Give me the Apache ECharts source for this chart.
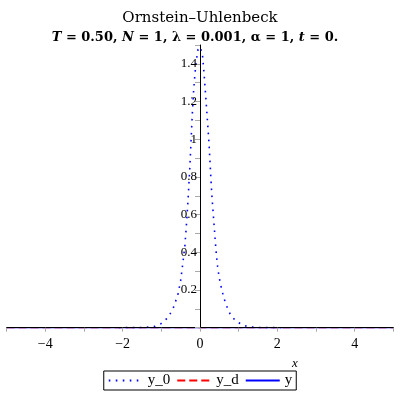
<!DOCTYPE html>
<html><head><meta charset="utf-8">
<script src="https://cdn.jsdelivr.net/npm/echarts@6/dist/echarts.min.js"></script>
<style>html,body{margin:0;padding:0;background:#fff}#c{width:400px;height:400px}</style>
</head><body><div id="c"></div>
<script>
// Series values
var y0X = [-2.1,-1.8,-1.5,-1.33,-1.17,-1.01,-0.86,-0.77,-0.68,-0.57,-0.5,-0.445,-0.39,-0.35,-0.316,-0.29,-0.265,-0.231,-0.205,-0.17,-0.13,-0.093,-0.05,0,0.06,0.105,0.14,0.175,0.205,0.235,0.26,0.29,0.315,0.344,0.37,0.396,0.42,0.455,0.49,0.53,0.566,0.61,0.66,0.72,0.79,0.92,1.07,1.24,1.5,1.8,2.1];
var y0Y = [0,0.0005,0.001,0.003,0.007,0.021,0.048,0.074,0.11,0.177,0.251,0.34,0.437,0.55,0.655,0.75,0.84,0.99,1.107,1.243,1.35,1.42,1.477,1.49,1.456,1.35,1.25,1.15,1.06,0.97,0.875,0.76,0.68,0.6,0.53,0.455,0.395,0.325,0.275,0.23,0.2,0.164,0.13,0.1,0.067,0.037,0.018,0.005,0.001,0.0005,0];
var ydX = [-5,5];
var ydY = [0,0];
var yX = [-5,5];
var yY = [0,0];
var xTicks = [-4,-2,0,2,4];

function pairs(xs, ys){ return xs.map(function(x,i){ return [x, ys[i]]; }); }

var chart = echarts.init(document.getElementById('c'));
var serif = 'DejaVu Serif';
var gridL = 6.6, gridR = 6.6;
chart.setOption({
  animation:false,
  title:{
    left:'center', top:4,
    text:'{a|Ornstein–Uhlenbeck}\n{i|T}{b| = 0.50, }{i|N}{b| = 1, λ = 0.001, α = 1, }{i|t}{b| = 0.}{p|}',
    textStyle:{
      rich:{
        a:{fontFamily:serif,fontSize:15,fontWeight:'normal',color:'#000',lineHeight:19},
        b:{fontFamily:serif,fontSize:13,fontWeight:'bold',color:'#000',lineHeight:19},
        i:{fontFamily:serif,fontSize:13,fontWeight:'bold',fontStyle:'italic',color:'#000',lineHeight:19},
        p:{width:10,lineHeight:19}
      }
    }
  },
  grid:{left:gridL,right:gridR,top:45,bottom:72.3,containLabel:false,outerBoundsMode:'none'},
  legend:{
    top:371,left:'center',
    borderColor:'#000',borderWidth:1,padding:[2,4],
    itemWidth:34,itemHeight:10,itemGap:6,
    itemStyle:{opacity:0},
    textStyle:{fontFamily:'Liberation Serif',fontSize:15,color:'#000'},
    data:['y_0','y_d','y']
  },
  xAxis:{
    type:'value',min:-5,max:5,interval:1,z:5,
    axisLine:{onZero:true,lineStyle:{color:'#000',width:1}},
    axisTick:{show:true,length:4,lineStyle:{color:'#aaa'}},
    splitLine:{show:false},
    axisLabel:{margin:10,fontFamily:'Liberation Serif',fontSize:14,color:'#000',
      formatter:function(v){ if(xTicks.indexOf(v)<0) return ''; return v<0?'\u2212'+(-v):''+v; }},
    name:'x',nameLocation:'middle',nameGap:27,
    nameTextStyle:{fontFamily:'Liberation Serif',fontStyle:'italic',fontSize:13,color:'#000',padding:[0,0,0,190]}
  },
  yAxis:{
    type:'value',min:0,max:1.5,interval:0.1,z:5,position:'left',
    offset:-(400-gridL-gridR)/2,
    axisLine:{onZero:false,lineStyle:{color:'#000',width:1}},
    axisTick:{show:true,length:5,lineStyle:{color:'#aaa'}},
    splitLine:{show:false},
    axisLabel:{margin:3,fontFamily:'Liberation Serif',fontSize:13,color:'#000',
      formatter:function(v){ var k=Math.round(v*10); if(k===0||k%2) return ''; return String(k/10); }}
  },
  series:[
    {name:'y_0',type:'line',data:pairs(y0X,y0Y),symbol:'none',z:2,
      lineStyle:{color:'#0000ff',width:1.6,type:[1.6,5.4]},itemStyle:{color:'#0000ff'}},
    {name:'y_d',type:'line',data:pairs(ydX,ydY),symbol:'none',z:1,
      lineStyle:{color:'#ff0000',width:1.5,type:[8,4]},itemStyle:{color:'#ff0000'}},
    {name:'y',type:'line',data:pairs(yX,yY),symbol:'none',z:1,
      lineStyle:{color:'#0000ff',width:1.5,type:'solid'},itemStyle:{color:'#0000ff'}}
  ]
});
</script></body></html>
